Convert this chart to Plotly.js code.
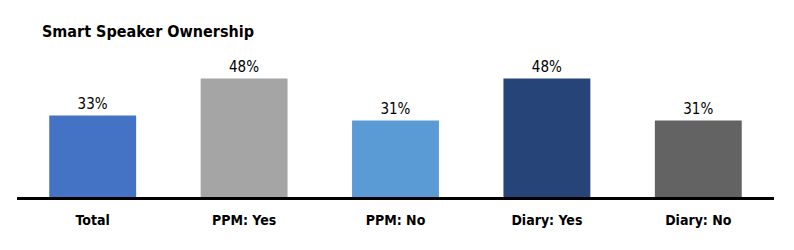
<!DOCTYPE html>
<html><head><meta charset="utf-8">
<script src="https://cdn.plot.ly/plotly-3.0.1.min.js"></script>
<style>html,body{margin:0;padding:0;background:#fff}#chart{width:794px;height:250px}</style>
</head><body><div id="chart"></div>
<script>
const categories = ["Total", "PPM: Yes", "PPM: No", "Diary: Yes", "Diary: No"];
const values = [33, 48, 31, 48, 31];
const valueLabels = ["33%", "48%", "31%", "48%", "31%"];
const colors = ["#4472C4", "#A5A5A5", "#5B9BD5", "#264478", "#636363"];
const FONT = "'DejaVu Sans Condensed', sans-serif";

Plotly.newPlot("chart", [{
  type: "bar",
  x: categories,
  y: values,
  text: valueLabels,
  textposition: "outside",
  cliponaxis: false,
  textfont: {family: FONT, size: 15, color: "#000"},
  marker: {color: colors},
  hoverinfo: "none"
}], {
  width: 794, height: 250,
  margin: {l: 17, r: 20, t: 30, b: 53},
  paper_bgcolor: "#fff", plot_bgcolor: "#fff",
  bargap: 0.426,
  showlegend: false,
  title: {text: "Smart Speaker Ownership", x: 0, xref: "paper", xanchor: "left", y: 0.875, yanchor: "middle",
          pad: {l: 25}, font: {family: FONT, size: 16, color: "#000", weight: "bold"}},
  xaxis: {showline: true, linecolor: "#000", linewidth: 3, ticks: "", showgrid: false, ticklabelstandoff: 8,
          tickfont: {family: FONT, size: 14, color: "#000", weight: "bold"}, fixedrange: true},
  yaxis: {range: [0, 67.7], visible: false, showgrid: false, zeroline: false, fixedrange: true}
}, {staticPlot: true});
</script></body></html>
